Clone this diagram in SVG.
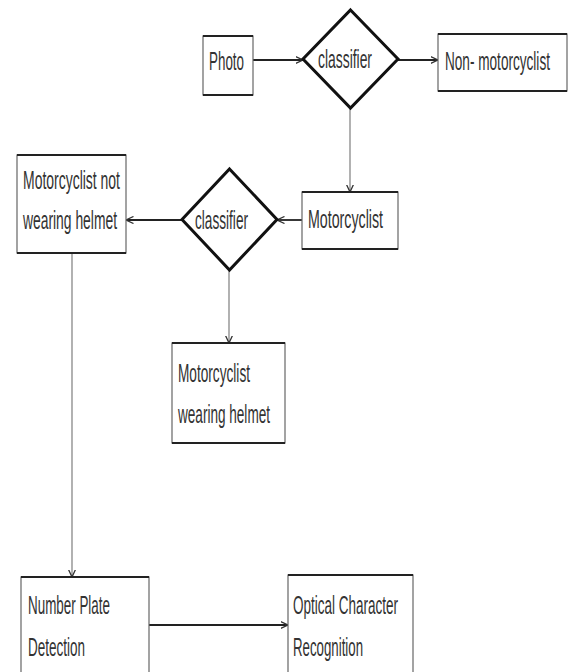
<svg xmlns="http://www.w3.org/2000/svg" width="568" height="672" viewBox="0 0 568 672">
<style>
.box{fill:#fff;stroke:#666;stroke-width:1.2}
.edge{stroke:#222;stroke-width:2.2}
.dia{fill:#fff;stroke:#111;stroke-width:3;stroke-linejoin:miter}
.t{font-family:"Liberation Sans",Arial,sans-serif;font-size:25px;fill:#333}
.h{stroke:#222;stroke-width:1.8;fill:none}
.v{stroke:#888;stroke-width:1.3;fill:none}
</style>
<defs>
<marker id="ah" viewBox="0 0 8 8" refX="7.5" refY="4" markerWidth="8" markerHeight="8" markerUnits="userSpaceOnUse" orient="auto">
<path d="M0,0.5 L7.5,4 L0,7.5" fill="none" stroke="#333" stroke-width="1.3"/>
</marker>
</defs>
<rect width="568" height="672" fill="#fff"/>
<g id="connectors">
<line class="h" x1="253" y1="60" x2="303" y2="60" marker-end="url(#ah)"/>
<line class="h" x1="398" y1="60" x2="438" y2="60" marker-end="url(#ah)"/>
<line class="v" x1="350" y1="108" x2="350" y2="192" marker-end="url(#ah)"/>
<line class="h" x1="302" y1="220" x2="277" y2="220" marker-end="url(#ah)"/>
<line class="h" x1="182" y1="220" x2="126" y2="220" marker-end="url(#ah)"/>
<line class="v" x1="229" y1="270" x2="229" y2="343" marker-end="url(#ah)"/>
<line class="v" x1="72" y1="253" x2="72" y2="577" marker-end="url(#ah)"/>
<line class="h" x1="149" y1="625" x2="288" y2="625" marker-end="url(#ah)"/>
</g>
<g id="photo">
<rect class="box" x="203" y="36" width="50" height="59"/>
<line class="edge" x1="203" y1="36" x2="253" y2="36"/><line class="edge" x1="203" y1="95" x2="253" y2="95"/>
<text class="t" x="209" y="70" textLength="35" lengthAdjust="spacingAndGlyphs">Photo</text>
</g>
<g id="classifier1">
<polygon class="dia" points="350.5,10 398,59 350.5,108 303,59"/>
<text class="t" x="318" y="68" textLength="54" lengthAdjust="spacingAndGlyphs">classifier</text>
</g>
<g id="non-motorcyclist">
<rect class="box" x="438" y="34" width="129" height="57"/>
<line class="edge" x1="438" y1="34" x2="567" y2="34"/><line class="edge" x1="438" y1="91" x2="567" y2="91"/>
<text class="t" transform="translate(445,70) scale(0.544,1)" x="0" y="0">Non- motorcyclist</text>
</g>
<g id="motorcyclist">
<rect class="box" x="302" y="192" width="96" height="57"/>
<line class="edge" x1="302" y1="192" x2="398" y2="192"/><line class="edge" x1="302" y1="249" x2="398" y2="249"/>
<text class="t" x="308" y="228" textLength="75" lengthAdjust="spacingAndGlyphs">Motorcyclist</text>
</g>
<g id="classifier2">
<polygon class="dia" points="229.5,169 277,219.5 229.5,270 182,219.5"/>
<text class="t" x="195" y="229" textLength="53" lengthAdjust="spacingAndGlyphs">classifier</text>
</g>
<g id="not-wearing">
<rect class="box" x="17" y="155" width="109" height="98"/>
<line class="edge" x1="17" y1="155" x2="126" y2="155"/><line class="edge" x1="17" y1="253" x2="126" y2="253"/>
<text class="t" x="23" y="189" textLength="97" lengthAdjust="spacingAndGlyphs">Motorcyclist not</text>
<text class="t" x="23" y="229" textLength="94" lengthAdjust="spacingAndGlyphs">wearing helmet</text>
</g>
<g id="wearing">
<rect class="box" x="172" y="343" width="113" height="100"/>
<line class="edge" x1="172" y1="343" x2="285" y2="343"/><line class="edge" x1="172" y1="443" x2="285" y2="443"/>
<text class="t" x="178" y="382" textLength="72" lengthAdjust="spacingAndGlyphs">Motorcyclist</text>
<text class="t" x="178" y="423" textLength="92" lengthAdjust="spacingAndGlyphs">wearing helmet</text>
</g>
<g id="number-plate">
<rect class="box" x="21" y="577" width="128" height="110"/>
<line class="edge" x1="21" y1="577" x2="149" y2="577"/>
<text class="t" x="28" y="614" textLength="82" lengthAdjust="spacingAndGlyphs">Number Plate</text>
<text class="t" x="28" y="656" textLength="57" lengthAdjust="spacingAndGlyphs">Detection</text>
</g>
<g id="ocr">
<rect class="box" x="288" y="575" width="125" height="110"/>
<line class="edge" x1="288" y1="575" x2="413" y2="575"/>
<text class="t" x="293" y="614" textLength="105" lengthAdjust="spacingAndGlyphs">Optical Character</text>
<text class="t" x="293" y="656" textLength="70" lengthAdjust="spacingAndGlyphs">Recognition</text>
</g>
</svg>
